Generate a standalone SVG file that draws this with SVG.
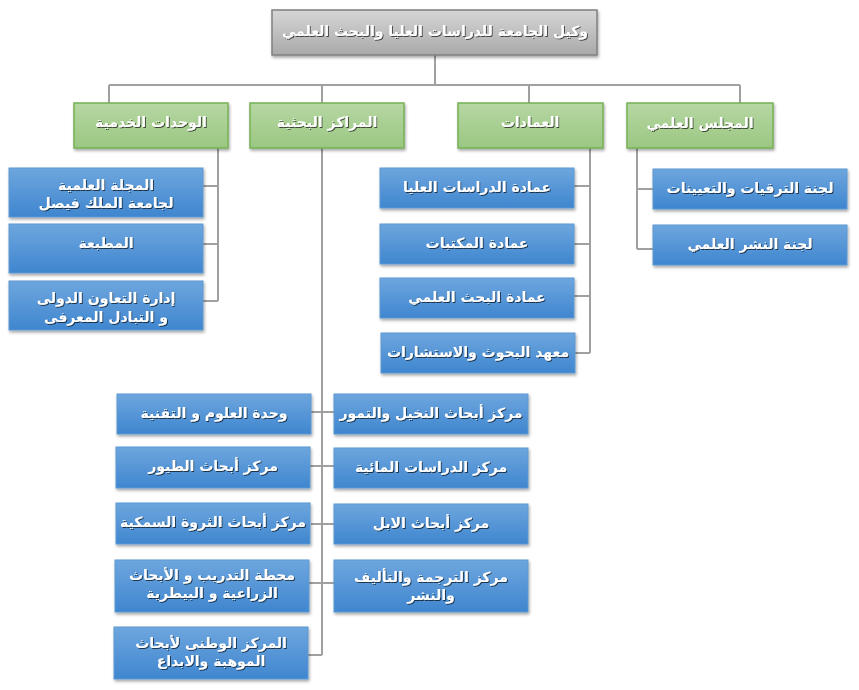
<svg xmlns="http://www.w3.org/2000/svg" width="859" height="690" viewBox="0 0 859 690">
<defs>
<linearGradient id="gGray" x1="0" y1="0" x2="0" y2="1"><stop offset="0" stop-color="#d6d6d6"/><stop offset="1" stop-color="#a9a9a9"/></linearGradient>
<linearGradient id="gGreen" x1="0" y1="0" x2="0" y2="1"><stop offset="0" stop-color="#b6d7a3"/><stop offset="1" stop-color="#9bc782"/></linearGradient>
<linearGradient id="gBlue" x1="0" y1="0" x2="0" y2="1"><stop offset="0" stop-color="#6ea6de"/><stop offset="1" stop-color="#3f86cf"/></linearGradient>
<filter id="boxShadow" x="-10%" y="-20%" width="120%" height="150%"><feDropShadow dx="1" dy="2" stdDeviation="1.5" flood-color="#000" flood-opacity="0.35"/></filter>
<filter id="txtShadow" x="-10%" y="-30%" width="120%" height="160%"><feDropShadow dx="1" dy="1" stdDeviation="0.4" flood-color="#000" flood-opacity="0.65"/></filter>
<style>
.gray{fill:url(#gGray);stroke:#808080;stroke-width:1.5;filter:url(#boxShadow)}
.green{fill:url(#gGreen);stroke:#76b154;stroke-width:1.5;filter:url(#boxShadow)}
.blue{fill:url(#gBlue);stroke:#5c98d2;stroke-width:1;filter:url(#boxShadow)}
text{font-family:"DejaVu Sans",sans-serif;font-weight:bold;font-size:14px;fill:#ffffff;text-anchor:middle;dominant-baseline:central;filter:url(#txtShadow)}
.conn{stroke:#a0a0a0;stroke-width:2;fill:none}
</style>
</defs>

<g id="connectors">
<path class="conn" d="M435,55 V85 M109,85 H740 M109,85 V103 M322,85 V103 M529,85 V103 M740,85 V103"/>
<path class="conn" d="M218,148 V301 M203,186 H218 M203,244 H218 M203,301 H218"/>
<path class="conn" d="M590,148 V353 M574,186 H590 M574,244 H590 M574,296 H590 M575,353 H590"/>
<path class="conn" d="M637,148 V249 M637,189 H653 M637,249 H653"/>
<path class="conn" d="M322,148 V655 M311,412 H334 M310,466 H334 M311,524 H334 M309,583 H334 M308,655 H322"/>
</g>

<g id="n-top"><rect class="gray" x="272" y="10" width="325" height="45"/><text x="435" y="31">وكيل الجامعة للدراسات العليا والبحث العلمي</text></g>

<g id="n-services"><rect class="green" x="74" y="103" width="154" height="45"/><text x="151" y="122">الوحدات الخدمية</text></g>
<g id="n-research"><rect class="green" x="250" y="103" width="154" height="45"/><text x="327" y="122">المراكز البحثية</text></g>
<g id="n-deanships"><rect class="green" x="458" y="103" width="145" height="45"/><text x="530" y="122">العمادات</text></g>
<g id="n-council"><rect class="green" x="627" y="103" width="146" height="45"/><text x="700" y="123">المجلس العلمي</text></g>

<g id="n-journal"><rect class="blue" x="9" y="168" width="194" height="49"/><text x="106" y="185">المجلة العلمية</text><text x="106" y="203">لجامعة الملك فيصل</text></g>
<g id="n-press"><rect class="blue" x="9" y="224" width="194" height="49"/><text x="106" y="243">المطبعة</text></g>
<g id="n-coop"><rect class="blue" x="9" y="281" width="194" height="49"/><text x="106" y="298">إدارة التعاون الدولى</text><text x="106" y="317">و التبادل المعرفى</text></g>

<g id="n-grad"><rect class="blue" x="380" y="168" width="194" height="40"/><text x="477" y="187">عمادة الدراسات العليا</text></g>
<g id="n-lib"><rect class="blue" x="380" y="224" width="194" height="40"/><text x="477" y="243">عمادة المكتبات</text></g>
<g id="n-sr"><rect class="blue" x="380" y="278" width="194" height="40"/><text x="477" y="297">عمادة البحث العلمي</text></g>
<g id="n-inst"><rect class="blue" x="381" y="333" width="194" height="40"/><text x="478" y="352">معهد البحوث والاستشارات</text></g>

<g id="n-promo"><rect class="blue" x="653" y="169" width="194" height="40"/><text x="750" y="188">لجنة الترقيات والتعيينات</text></g>
<g id="n-pub"><rect class="blue" x="653" y="225" width="194" height="40"/><text x="750" y="244">لجنة النشر العلمي</text></g>

<g id="n-palm"><rect class="blue" x="334" y="394" width="194" height="40"/><text x="431" y="413">مركز أبحاث النخيل والتمور</text></g>
<g id="n-water"><rect class="blue" x="334" y="448" width="194" height="40"/><text x="431" y="467">مركز الدراسات  المائية</text></g>
<g id="n-camel"><rect class="blue" x="334" y="504" width="194" height="40"/><text x="431" y="523">مركز أبحاث الابل</text></g>
<g id="n-trans"><rect class="blue" x="334" y="560" width="194" height="52"/><text x="431" y="577">مركز الترجمة والتأليف</text><text x="431" y="595">والنشر</text></g>

<g id="n-sci"><rect class="blue" x="117" y="394" width="194" height="40"/><text x="214" y="413">وحدة العلوم و التقنية</text></g>
<g id="n-birds"><rect class="blue" x="116" y="447" width="194" height="41"/><text x="213" y="466">مركز أبحاث الطيور</text></g>
<g id="n-fish"><rect class="blue" x="116" y="503" width="194" height="41"/><text x="213" y="522">مركز أبحاث الثروة السمكية</text></g>
<g id="n-station"><rect class="blue" x="115" y="560" width="194" height="52"/><text x="212" y="575">محطة التدريب و الأبحاث</text><text x="212" y="593">الزراعية و البيطرية</text></g>
<g id="n-gifted"><rect class="blue" x="114" y="627" width="194" height="52"/><text x="211" y="643">المركز الوطنى لأبحاث</text><text x="211" y="661">الموهبة والابداع</text></g>
</svg>
